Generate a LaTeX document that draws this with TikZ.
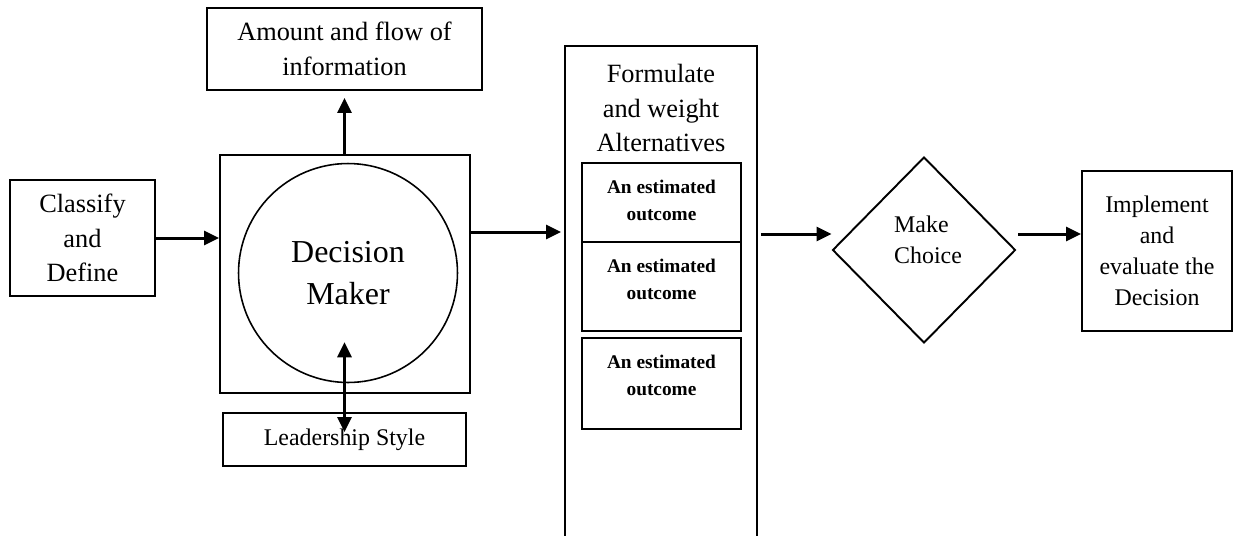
\documentclass[tikz,border=0pt]{standalone}
\usepackage{fontspec}
\setmainfont{Liberation Serif}
\usetikzlibrary{arrows.meta,shapes.geometric}
\begin{document}
\begin{tikzpicture}[x=0.02cm,y=-0.02cm,
  box/.style={draw,line width=1.1pt,inner sep=0pt},
  big/.style={font=\fontsize{15pt}{19.8pt}\selectfont,align=center},
  small/.style={font=\bfseries\fontsize{11pt}{15.3pt}\selectfont,align=center},
  mid/.style={font=\fontsize{13.6pt}{17.6pt}\selectfont,align=center},
  arr/.style={line width=1.7pt,-{Triangle[length=0.3cm,width=0.28cm]}},
  darr/.style={line width=1.7pt,{Triangle[length=0.3cm,width=0.28cm]}-{Triangle[length=0.3cm,width=0.28cm]}}]
\useasboundingbox (0,0) rectangle (1234,535);
\clip (0,0) rectangle (1234,535);
\fill[white] (0,0) rectangle (1234,535);
% Classify
\node[box,big,minimum width=2.9cm,minimum height=2.32cm] (cl) at (82.5,238) {Classify\\and\\Define};
% Decision maker
\node[box,minimum width=5.0cm,minimum height=4.76cm] (dm) at (345,274) {};
\node[draw,circle,line width=0.9pt,minimum size=4.38cm,inner sep=0pt,font=\fontsize{18.2pt}{24.4pt}\selectfont,align=center] (circ) at (348,273) {Decision\\Maker};
% Info
\node[box,big,minimum width=5.5cm,minimum height=1.64cm] (info) at (344.5,49) {Amount and flow of\\information};
% Leadership
\node[box,mid,minimum width=4.86cm,minimum height=1.06cm] (ls) at (344.5,439.5) {Leadership Style};
% Alternatives
\node[box,minimum width=3.84cm,minimum height=9.98cm] (alt) at (661,295.5) {};
\node[big] (altt) at (661,108) {Formulate\\and weight\\Alternatives};
\node[box,minimum width=3.18cm,minimum height=1.58cm] (o1) at (661.5,202.5) {};
\node[box,minimum width=3.18cm,minimum height=1.78cm] (o2) at (661.5,286.5) {};
\node[box,minimum width=3.18cm,minimum height=1.82cm] (o3) at (661.5,383.5) {};
\node[small] (t1) at (661.5,200) {An estimated\\outcome};
\node[small] (t2) at (661.5,279.5) {An estimated\\outcome};
\node[small] (t3) at (661.5,375) {An estimated\\outcome};
% Diamond
\node[draw,diamond,line width=1.1pt,minimum width=3.66cm,minimum height=3.72cm,inner sep=0pt] (mc) at (924,250) {};
\node[mid,align=left,anchor=west] (mct) at (888,240) {Make\\Choice};
% Implement
\node[box,mid,minimum width=3.0cm,minimum height=3.2cm] (impl) at (1157,251) {Implement\\and\\evaluate the\\Decision};
% Connectors
\coordinate (cs) at ([yshift=41*0.02cm]circ.south);
\coordinate (lt) at ([yshift=7.5*0.02cm]ls.center);
\draw[arr] (cl.east) -- (cl.east -| dm.west);
\draw[arr,shorten >=7*0.02cm] (dm.north -| info.south) -- (info.south);
\draw[darr] (cs -| lt) -- (lt);
\draw[arr,shorten >=3*0.02cm] (dm.east |- 0,232) -- (alt.west |- 0,232);
\draw[arr,shorten <=3*0.02cm] (alt.east |- 0,234) -- (mc.west |- 0,234);
\draw[arr,shorten <=2*0.02cm] (mc.east |- 0,234) -- (impl.west |- 0,234);
\end{tikzpicture}
\end{document}
